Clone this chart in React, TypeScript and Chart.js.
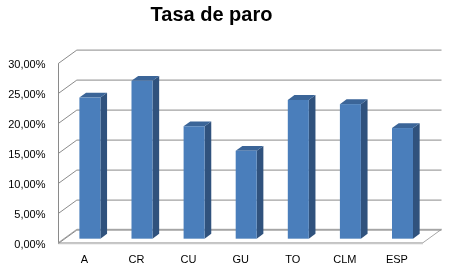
import React, { useEffect, useRef } from "react";
import { Chart, registerables } from "chart.js";

Chart.register(...registerables);

const categories = ["A", "CR", "CU", "GU", "TO", "CLM", "ESP"];
const tasaParo = [0.236, 0.264, 0.188, 0.147, 0.232, 0.225, 0.185];
const yTicks = [0, 0.05, 0.1, 0.15, 0.2, 0.25, 0.3];
const chartTitle = "Tasa de paro";

const DEPTH_X = 18.5;
const DEPTH_Y = -13.4;
const BAR_F1 = 0.3;
const BAR_F2 = 0.66;

const GRID = "#8A8A8A";
const FRONT = "#4A7EBB";
const SIDE = "#30527D";
const TOP = "#3B6598";

const threeD = {
  id: "threeD",
  beforeDatasetsDraw(chart: any) {
    const { ctx, chartArea } = chart;
    const y = chart.scales.y;
    const left = chartArea.left;
    const right = chartArea.right;
    ctx.save();
    // floor
    const yb = y.getPixelForValue(0);
    ctx.beginPath();
    ctx.moveTo(left, yb);
    ctx.lineTo(right, yb);
    ctx.lineTo(right + DEPTH_X, yb + DEPTH_Y);
    ctx.lineTo(left + DEPTH_X, yb + DEPTH_Y);
    ctx.closePath();
    ctx.fillStyle = "#FFFFFF";
    ctx.fill();
    ctx.strokeStyle = "#A6A6A6";
    ctx.lineWidth = 1;
    ctx.stroke();
    ctx.beginPath();
    ctx.moveTo(left, yb + 0.5);
    ctx.lineTo(right, yb + 0.5);
    ctx.strokeStyle = "#C8C8C8";
    ctx.lineWidth = 2;
    ctx.stroke();
    // gridlines on side and back walls
    ctx.strokeStyle = GRID;
    ctx.lineWidth = 1;
    for (const v of yTicks) {
      const yf = Math.round(y.getPixelForValue(v)) + 0.5;
      ctx.beginPath();
      ctx.moveTo(left, yf);
      ctx.lineTo(left + DEPTH_X, yf + DEPTH_Y);
      ctx.lineTo(right + DEPTH_X, yf + DEPTH_Y);
      ctx.stroke();
    }
    // front edge of side wall
    ctx.beginPath();
    ctx.moveTo(Math.round(left) + 0.5, y.getPixelForValue(yTicks[yTicks.length - 1]));
    ctx.lineTo(Math.round(left) + 0.5, yb);
    ctx.stroke();
    ctx.restore();
  },
  afterDatasetsDraw(chart: any) {
    const { ctx } = chart;
    const meta = chart.getDatasetMeta(0);
    const fdx = BAR_F1 * DEPTH_X;
    const fdy = BAR_F1 * DEPTH_Y;
    const bdx = (BAR_F2 - BAR_F1) * DEPTH_X;
    const bdy = (BAR_F2 - BAR_F1) * DEPTH_Y;
    ctx.save();
    meta.data.forEach((bar: any) => {
      const p = bar.getProps(["x", "y", "base", "width"], true);
      const l = p.x - p.width / 2 + fdx;
      const r = p.x + p.width / 2 + fdx;
      const t = p.y + fdy;
      const b = p.base + fdy;
      // side
      ctx.beginPath();
      ctx.moveTo(r, t);
      ctx.lineTo(r + bdx, t + bdy);
      ctx.lineTo(r + bdx, b + bdy);
      ctx.lineTo(r, b);
      ctx.closePath();
      ctx.fillStyle = SIDE;
      ctx.fill();
      // top
      ctx.beginPath();
      ctx.moveTo(l, t);
      ctx.lineTo(l + bdx, t + bdy);
      ctx.lineTo(r + bdx, t + bdy);
      ctx.lineTo(r, t);
      ctx.closePath();
      ctx.fillStyle = TOP;
      ctx.fill();
      // front
      ctx.fillStyle = FRONT;
      ctx.fillRect(l, t, r - l, b - t);
    });
    ctx.restore();
  },
};

export default function App() {
  const ref = useRef<HTMLCanvasElement>(null);
  useEffect(() => {
    document.body.style.margin = "0";
    const chart = new Chart(ref.current!, {
      type: "bar",
      data: {
        labels: categories,
        datasets: [
          {
            label: chartTitle,
            data: tasaParo,
            backgroundColor: "rgba(0,0,0,0)",
            borderWidth: 0,
            categoryPercentage: 0.8,
            barPercentage: 0.504,
          },
        ],
      },
      options: {
        responsive: false,
        animation: false,
        events: [],
        layout: { padding: { top: 0, right: 29, bottom: 0, left: 0 } },
        plugins: {
          legend: { display: false },
          tooltip: { enabled: false },
          title: {
            display: true,
            text: chartTitle,
            color: "#000000",
            font: { family: "Liberation Sans", size: 20, weight: "bold" },
            padding: { top: 3, bottom: 36.3 },
          },
        },
        scales: {
          x: {
            grid: { display: false, drawTicks: false },
            border: { display: false },
            ticks: {
              color: "#000000",
              font: { family: "Liberation Sans", size: 11 },
              padding: 11,
              maxRotation: 0,
            },
            afterFit(scale: any) {
              scale.height = 27.3;
            },
          },
          y: {
            min: 0,
            max: 0.3,
            grid: { display: false, drawTicks: false },
            border: { display: false },
            afterBuildTicks(scale: any) {
              scale.ticks = yTicks.map((v) => ({ value: v }));
            },
            ticks: {
              color: "#000000",
              font: { family: "Liberation Sans", size: 11 },
              padding: 12.8,
              labelOffset: 2,
              callback: (v: any) =>
                (Number(v) * 100).toFixed(2).replace(".", ",") + "%",
            },
            afterFit(scale: any) {
              scale.width = 58.3;
            },
          },
        },
      },
      plugins: [threeD],
    });
    return () => chart.destroy();
  }, []);
  return <canvas ref={ref} width={452} height={270} style={{ display: "block" }} />;
}
